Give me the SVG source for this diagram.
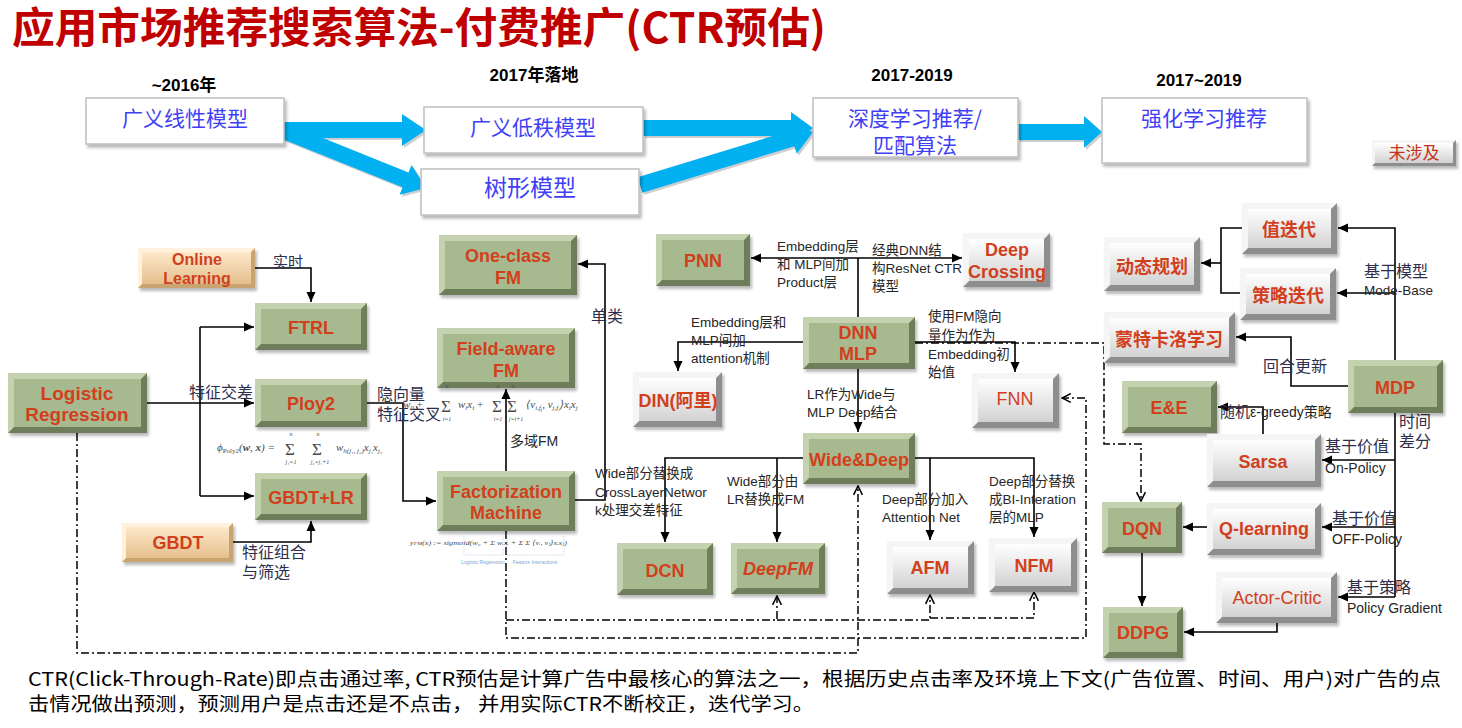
<svg xmlns="http://www.w3.org/2000/svg" width="1462" height="728" viewBox="0 0 1462 728">
<defs>
<linearGradient id="wg" x1="0" y1="0" x2="0" y2="1"><stop offset="0" stop-color="#FFFFFF"/><stop offset="1" stop-color="#D2D2D2"/></linearGradient>
<linearGradient id="tg" x1="0" y1="0" x2="0" y2="1"><stop offset="0" stop-color="#FEE9CB"/><stop offset="1" stop-color="#E4BF8C"/></linearGradient>
<filter id="ds" x="-10%" y="-10%" width="130%" height="140%"><feDropShadow dx="2" dy="3" stdDeviation="1.5" flood-color="#000" flood-opacity="0.28"/></filter>
<marker id="ah" viewBox="0 0 10 10" refX="10" refY="5" markerWidth="10" markerHeight="10" markerUnits="userSpaceOnUse" orient="auto"><path d="M0,0.5 L10,5 L0,9.5 z" fill="#000"/></marker>
<marker id="oh" viewBox="0 0 10 10" refX="9" refY="5" markerWidth="11" markerHeight="11" markerUnits="userSpaceOnUse" orient="auto"><path d="M1,1 L9,5 L1,9" fill="none" stroke="#000" stroke-width="1.4"/></marker>
<style>
.title{font-family:"Noto Sans CJK SC","Liberation Sans",sans-serif;font-weight:bold;font-size:42px;fill:#C00000}
.hd{font-family:"Liberation Sans","Noto Sans CJK SC",sans-serif;font-weight:bold;font-size:17px;fill:#000;text-anchor:middle}
.tb{fill:#fff;stroke:#BFBFBF;stroke-width:1.5;filter:url(#ds)}
.tt{font-family:"Noto Sans CJK SC",sans-serif;font-size:21px;fill:#3F3FF5;text-anchor:middle}
.ba{fill:#00B0F0}
.bs{fill:#9E9E9E;opacity:.5}
.gd{fill:#6E7D5A;filter:url(#ds)} .gl{fill:#C5D2B0} .gf{fill:#A7B98F}
.wd{fill:#8E8E8E;filter:url(#ds)} .wl{fill:#F5F5F5} .wf{fill:url(#wg)}
.td{fill:#C9A46F;filter:url(#ds)} .tl{fill:#FFF1DC} .tf{fill:url(#tg)}
.nt{font-family:"Liberation Sans","Noto Sans CJK SC",sans-serif;font-weight:bold;font-size:18px;fill:#D13F1D;text-anchor:middle}
.ln{fill:none;stroke:#000;stroke-width:1.6}
.ar{marker-end:url(#ah)}
.dd{fill:none;stroke:#000;stroke-width:1.5;stroke-dasharray:8 3 2 3}
.oa{marker-end:url(#oh)}
.lb{font-family:"Liberation Sans","Noto Sans CJK SC",sans-serif;font-size:13.5px;fill:#262626}
.lc{font-family:"Liberation Serif","Noto Sans CJK SC",serif;font-size:16px;fill:#2E2E4A}
.fx{font-family:"Liberation Serif","DejaVu Serif",serif;font-size:11px;fill:#4A4A4A;font-style:italic}
.fs{font-family:"Liberation Serif","DejaVu Serif",serif;font-size:17px;fill:#4A4A4A}
.fl{font-family:"Liberation Serif","DejaVu Serif",serif;font-size:6px;fill:#4A4A4A;font-style:italic;text-anchor:middle}
.ft{font-family:"Noto Sans CJK SC","Liberation Sans",sans-serif;font-size:19px;fill:#000}
</style>
</defs>
<rect x="0" y="0" width="1462" height="728" fill="#fff"/>

<!-- heading -->
<text class="title" x="12" y="43" textLength="814" lengthAdjust="spacingAndGlyphs">应用市场推荐搜索算法-付费推广(CTR预估)</text>

<!-- timeline headers -->
<g id="headers">
<text class="hd" x="184" y="91">~2016年</text>
<text class="hd" x="534" y="81">2017年落地</text>
<text class="hd" x="912" y="81">2017-2019</text>
<text class="hd" x="1199" y="86">2017~2019</text>
</g>

<!-- broad arrows between the model families -->
<g id="flow-arrows">
<g transform="translate(2,2)">
<polygon class="bs" points="284,122 402,122 402,114 426,130 402,146 402,138 284,138"/>
<polygon class="bs" transform="translate(284,131) rotate(21.9)" points="0,-8 131,-8 131,-16 153,0 131,16 131,8 0,8"/>
<polygon class="bs" points="643,120 791,120 791,112 813,128 791,144 791,136 643,136"/>
<polygon class="bs" transform="translate(640,185) rotate(-17)" points="0,-8 159,-8 159,-16 181,0 159,16 159,8 0,8"/>
<polygon class="bs" points="1018,124 1084,124 1084,116 1102,132 1084,148 1084,140 1018,140"/>
</g>
<polygon class="ba" points="284,122 402,122 402,114 426,130 402,146 402,138 284,138"/>
<polygon class="ba" transform="translate(284,131) rotate(21.9)" points="0,-8 131,-8 131,-16 153,0 131,16 131,8 0,8"/>
<polygon class="ba" points="643,120 791,120 791,112 813,128 791,144 791,136 643,136"/>
<polygon class="ba" transform="translate(640,185) rotate(-17)" points="0,-8 159,-8 159,-16 181,0 159,16 159,8 0,8"/>
<polygon class="ba" points="1018,124 1084,124 1084,116 1102,132 1084,148 1084,140 1018,140"/>
</g>

<!-- model families -->
<g id="fam-linear"><rect class="tb" x="86" y="98" width="198" height="46"/><text class="tt" x="185" y="125.5">广义线性模型</text></g>
<g id="fam-lowrank"><rect class="tb" x="424" y="107" width="219" height="46"/><text class="tt" x="533" y="134.5">广义低秩模型</text></g>
<g id="fam-tree"><rect class="tb" x="421" y="169" width="218" height="46"/><text class="tt" x="530" y="196" style="font-size:23px">树形模型</text></g>
<g id="fam-deep"><rect class="tb" x="813" y="98" width="205" height="59"/><text class="tt" x="915" y="125.5">深度学习推荐/</text><text class="tt" x="915" y="152.5">匹配算法</text></g>
<g id="fam-rl"><rect class="tb" x="1102" y="98" width="205" height="65"/><text class="tt" x="1204" y="125.5">强化学习推荐</text></g>
<g id="not-covered"><rect class="wd" x="1372" y="140" width="84" height="26"/><path class="wl" d="M1372 140 h84 l-3 3 H1375 V163 l-3 3 z"/><rect class="wf" x="1375" y="143" width="78" height="20"/><text x="1414" y="159" style="font-family:'Noto Sans CJK SC',sans-serif;font-size:17px;fill:#C8341A;text-anchor:middle">未涉及</text></g>

<!-- connectors -->
<g id="connectors">
<path class="ln ar" d="M255,268 H311 V302"/>
<path class="ln ar" d="M147,403 H254"/>
<path class="ln" d="M200,327 V496"/>
<path class="ln ar" d="M200,327 H254"/>
<path class="ln ar" d="M200,496 H254"/>
<path class="ln ar" d="M233,542 H311 V521"/>
<path class="ln ar" d="M367,403 H403 V501 H436"/>
<path class="ln ar" d="M506,471 V389"/>
<path class="ln ar" d="M575,500 H605 V264 H578"/>
<path class="ln" d="M858,317 V258"/>
<path class="ln ar" d="M858,258 H751"/>
<path class="ln ar" d="M858,258 H962"/>
<path class="ln ar" d="M803,342 H678 V371"/>
<path class="ln ar" d="M915,342 H1015 V372"/>
<path class="ln ar" d="M858,369 V432"/>
<path class="ln ar" d="M803,458 H665 V542"/>
<path class="ln ar" d="M777,458 V542"/>
<path class="ln ar" d="M915,458 H930 V540"/>
<path class="ln ar" d="M930,458 H1034 V537"/>
<path class="ln ar" d="M1395,360 V228 H1338"/>
<path class="ln ar" d="M1395,293 H1337"/>
<path class="ln" d="M1242,228 H1221 V293 H1240"/>
<path class="ln ar" d="M1221,263 H1201"/>
<path class="ln ar" d="M1348,386 H1291 V337 H1236"/>
<path class="ln" d="M1395,413 V597"/>
<path class="ln ar" d="M1395,460 H1322"/>
<path class="ln ar" d="M1395,527 H1322"/>
<path class="ln ar" d="M1395,597 H1338"/>
<path class="ln ar" d="M1263,434 V407 H1218"/>
<path class="ln ar" d="M1207,527 H1183"/>
<path class="ln ar" d="M1142,553 V606"/>
<path class="ln ar" d="M1277,623 V632 H1184"/>
<path class="dd oa" d="M77,433 V653 H858 V486"/>
<path class="dd oa" d="M506,531 V638 H1086 V398 H1062"/>
<path class="dd oa" d="M506,620 H777 V596"/>
<path class="dd oa" d="M777,620 H930 V595"/>
<path class="dd oa" d="M930,618 H1034 V592"/>
<path class="dd oa" d="M915,343 H1104 V444 H1141 V501"/>
</g>

<!-- tan nodes -->
<g id="n-online"><rect class="td" x="138" y="248" width="117" height="40"/><path class="tl" d="M138 248 h117 l-4 4 H142 V284 l-4 4 z"/><rect class="tf" x="142" y="252" width="109" height="32"/><text class="nt" x="197" y="265" style="font-size:16px">Online</text><text class="nt" x="197" y="284" style="font-size:16px">Learning</text></g>
<g id="n-gbdt"><rect class="td" x="122" y="523" width="111" height="39"/><path class="tl" d="M122 523 h111 l-4 4 H126 V558 l-4 4 z"/><rect class="tf" x="126" y="527" width="103" height="31"/><text class="nt" x="178" y="548.5">GBDT</text></g>

<!-- green nodes -->
<g id="n-ftrl"><rect class="gd" x="255" y="303" width="112" height="47"/><path class="gl" d="M255 303 h112 l-6 6 H261 V344 l-6 6 z"/><rect class="gf" x="261" y="309" width="100" height="35"/><text class="nt" x="311" y="333.5">FTRL</text></g>
<g id="n-lr"><rect class="gd" x="8" y="373" width="139" height="60"/><path class="gl" d="M8 373 h139 l-6 6 H14 V427 l-6 6 z"/><rect class="gf" x="14" y="379" width="127" height="48"/><text class="nt" x="77" y="400" style="font-size:19px">Logistic</text><text class="nt" x="77" y="421" style="font-size:19px">Regression</text></g>
<g id="n-ploy2"><rect class="gd" x="255" y="379" width="112" height="48"/><path class="gl" d="M255 379 h112 l-6 6 H261 V421 l-6 6 z"/><rect class="gf" x="261" y="385" width="100" height="36"/><text class="nt" x="311" y="409.5">Ploy2</text></g>
<g id="n-gbdtlr"><rect class="gd" x="255" y="473" width="112" height="47"/><path class="gl" d="M255 473 h112 l-6 6 H261 V514 l-6 6 z"/><rect class="gf" x="261" y="479" width="100" height="35"/><text class="nt" x="311" y="503.5">GBDT+LR</text></g>
<g id="n-oneclass"><rect class="gd" x="439" y="235" width="138" height="60"/><path class="gl" d="M439 235 h138 l-6 6 H445 V289 l-6 6 z"/><rect class="gf" x="445" y="241" width="126" height="48"/><text class="nt" x="508" y="261.5">One-class</text><text class="nt" x="508" y="283.5">FM</text></g>
<g id="n-ffm"><rect class="gd" x="437" y="328" width="138" height="60"/><path class="gl" d="M437 328 h138 l-6 6 H443 V382 l-6 6 z"/><rect class="gf" x="443" y="334" width="126" height="48"/><text class="nt" x="506" y="354.5">Field-aware</text><text class="nt" x="506" y="376.5">FM</text></g>
<g id="n-fm"><rect class="gd" x="437" y="471" width="138" height="60"/><path class="gl" d="M437 471 h138 l-6 6 H443 V525 l-6 6 z"/><rect class="gf" x="443" y="477" width="126" height="48"/><text class="nt" x="506" y="497.5">Factorization</text><text class="nt" x="506" y="518.5">Machine</text></g>
<g id="n-pnn"><rect class="gd" x="656" y="234" width="94" height="52"/><path class="gl" d="M656 234 h94 l-6 6 H662 V280 l-6 6 z"/><rect class="gf" x="662" y="240" width="82" height="40"/><text class="nt" x="703" y="266.5">PNN</text></g>
<g id="n-dnn"><rect class="gd" x="803" y="317" width="112" height="52"/><path class="gl" d="M803 317 h112 l-6 6 H809 V363 l-6 6 z"/><rect class="gf" x="809" y="323" width="100" height="40"/><text class="nt" x="858" y="338.5">DNN</text><text class="nt" x="858" y="359.5">MLP</text></g>
<g id="n-widedeep"><rect class="gd" x="803" y="433" width="112" height="51"/><path class="gl" d="M803 433 h112 l-6 6 H809 V478 l-6 6 z"/><rect class="gf" x="809" y="439" width="100" height="39"/><text class="nt" x="859" y="465.5">Wide&amp;Deep</text></g>
<g id="n-dcn"><rect class="gd" x="617" y="543" width="96" height="52"/><path class="gl" d="M617 543 h96 l-6 6 H623 V589 l-6 6 z"/><rect class="gf" x="623" y="549" width="84" height="40"/><text class="nt" x="665" y="576.5">DCN</text></g>
<g id="n-deepfm"><rect class="gd" x="731" y="543" width="94" height="51"/><path class="gl" d="M731 543 h94 l-6 6 H737 V588 l-6 6 z"/><rect class="gf" x="737" y="549" width="82" height="39"/><text class="nt" x="778" y="574.5" style="font-style:italic">DeepFM</text></g>
<g id="n-mdp"><rect class="gd" x="1348" y="360" width="95" height="53"/><path class="gl" d="M1348 360 h95 l-6 6 H1354 V407 l-6 6 z"/><rect class="gf" x="1354" y="366" width="83" height="41"/><text class="nt" x="1395" y="393.5">MDP</text></g>
<g id="n-ee"><rect class="gd" x="1122" y="381" width="95" height="52"/><path class="gl" d="M1122 381 h95 l-6 6 H1128 V427 l-6 6 z"/><rect class="gf" x="1128" y="387" width="83" height="40"/><text class="nt" x="1169" y="413.5">E&amp;E</text></g>
<g id="n-dqn"><rect class="gd" x="1102" y="502" width="80" height="51"/><path class="gl" d="M1102 502 h80 l-6 6 H1108 V547 l-6 6 z"/><rect class="gf" x="1108" y="508" width="68" height="39"/><text class="nt" x="1142" y="534.5">DQN</text></g>
<g id="n-ddpg"><rect class="gd" x="1103" y="607" width="80" height="51"/><path class="gl" d="M1103 607 h80 l-6 6 H1109 V652 l-6 6 z"/><rect class="gf" x="1109" y="613" width="68" height="39"/><text class="nt" x="1143" y="638.5">DDPG</text></g>

<!-- grey nodes -->
<g id="n-deepcross"><rect class="wd" x="963" y="233" width="87" height="54"/><path class="wl" d="M963 233 h87 l-6 6 H969 V281 l-6 6 z"/><rect class="wf" x="969" y="239" width="75" height="42"/><text class="nt" x="1007" y="255.5">Deep</text><text class="nt" x="1007" y="277.5">Crossing</text></g>
<g id="n-din"><rect class="wd" x="633" y="372" width="89" height="55"/><path class="wl" d="M633 372 h89 l-6 6 H639 V421 l-6 6 z"/><rect class="wf" x="639" y="378" width="77" height="43"/><text class="nt" x="678" y="406.5">DIN(阿里)</text></g>
<g id="n-fnn"><rect class="wd" x="972" y="373" width="87" height="55"/><path class="wl" d="M972 373 h87 l-6 6 H978 V422 l-6 6 z"/><rect class="wf" x="978" y="379" width="75" height="43"/><text class="nt" x="1015" y="404.5" style="font-weight:normal">FNN</text></g>
<g id="n-afm"><rect class="wd" x="887" y="541" width="87" height="53"/><path class="wl" d="M887 541 h87 l-6 6 H893 V588 l-6 6 z"/><rect class="wf" x="893" y="547" width="75" height="41"/><text class="nt" x="930" y="573.5">AFM</text></g>
<g id="n-nfm"><rect class="wd" x="989" y="538" width="88" height="54"/><path class="wl" d="M989 538 h88 l-6 6 H995 V586 l-6 6 z"/><rect class="wf" x="995" y="544" width="76" height="42"/><text class="nt" x="1034" y="571.5">NFM</text></g>
<g id="n-valueiter"><rect class="wd" x="1242" y="203" width="95" height="51"/><path class="wl" d="M1242 203 h95 l-6 6 H1248 V248 l-6 6 z"/><rect class="wf" x="1248" y="209" width="83" height="39"/><text class="nt" x="1289" y="235.5">值迭代</text></g>
<g id="n-dp"><rect class="wd" x="1104" y="237" width="96" height="54"/><path class="wl" d="M1104 237 h96 l-6 6 H1110 V285 l-6 6 z"/><rect class="wf" x="1110" y="243" width="84" height="42"/><text class="nt" x="1152" y="272.5">动态规划</text></g>
<g id="n-policyiter"><rect class="wd" x="1240" y="268" width="96" height="52"/><path class="wl" d="M1240 268 h96 l-6 6 H1246 V314 l-6 6 z"/><rect class="wf" x="1246" y="274" width="84" height="40"/><text class="nt" x="1288" y="301.5">策略迭代</text></g>
<g id="n-montecarlo"><rect class="wd" x="1104" y="312" width="131" height="51"/><path class="wl" d="M1104 312 h131 l-6 6 H1110 V357 l-6 6 z"/><rect class="wf" x="1110" y="318" width="119" height="39"/><text class="nt" x="1169" y="345.5">蒙特卡洛学习</text></g>
<g id="n-sarsa"><rect class="wd" x="1207" y="434" width="114" height="53"/><path class="wl" d="M1207 434 h114 l-6 6 H1213 V481 l-6 6 z"/><rect class="wf" x="1213" y="440" width="102" height="41"/><text class="nt" x="1263" y="467.5">Sarsa</text></g>
<g id="n-qlearning"><rect class="wd" x="1207" y="503" width="114" height="52"/><path class="wl" d="M1207 503 h114 l-6 6 H1213 V549 l-6 6 z"/><rect class="wf" x="1213" y="509" width="102" height="40"/><text class="nt" x="1264" y="534.5">Q-learning</text></g>
<g id="n-actorcritic"><rect class="wd" x="1216" y="572" width="121" height="51"/><path class="wl" d="M1216 572 h121 l-6 6 H1222 V617 l-6 6 z"/><rect class="wf" x="1222" y="578" width="109" height="39"/><text class="nt" x="1277" y="603.5" style="font-weight:normal">Actor-Critic</text></g>

<!-- edge labels -->
<g id="labels">
<text class="lc" x="273" y="267" style="font-size:15px">实时</text>
<text class="lc" x="189" y="398">特征交差</text>
<text class="lc" x="377" y="400">隐向量</text>
<text class="lc" x="377" y="420">特征交叉</text>
<text class="lc" x="242" y="558">特征组合</text>
<text class="lc" x="242" y="578">与筛选</text>
<text class="lc" x="591" y="322">单类</text>
<text class="lb" x="510" y="446" style="font-size:14px">多域FM</text>
<text class="lb" x="595" y="478">Wide部分替换成</text>
<text class="lb" x="595" y="497">CrossLayerNetwor</text>
<text class="lb" x="595" y="515">k处理交差特征</text>
<text class="lb" x="777" y="251">Embedding层</text>
<text class="lb" x="777" y="269">和 MLP间加</text>
<text class="lb" x="777" y="287">Product层</text>
<text class="lb" x="872" y="255">经典DNN结</text>
<text class="lb" x="872" y="273">构ResNet CTR</text>
<text class="lb" x="872" y="291">模型</text>
<text class="lb" x="691" y="327">Embedding层和</text>
<text class="lb" x="691" y="345">MLP间加</text>
<text class="lb" x="691" y="363">attention机制</text>
<text class="lb" x="928" y="321">使用FM隐向</text>
<text class="lb" x="928" y="340">量作为作为</text>
<text class="lb" x="928" y="359">Embedding初</text>
<text class="lb" x="928" y="377">始值</text>
<text class="lb" x="807" y="399">LR作为Wide与</text>
<text class="lb" x="807" y="417">MLP Deep结合</text>
<text class="lb" x="727" y="486">Wide部分由</text>
<text class="lb" x="727" y="504">LR替换成FM</text>
<text class="lb" x="882" y="504">Deep部分加入</text>
<text class="lb" x="882" y="522">Attention Net</text>
<text class="lb" x="989" y="486">Deep部分替换</text>
<text class="lb" x="989" y="504">成BI-Interation</text>
<text class="lb" x="989" y="522">层的MLP</text>
<text class="lc" x="1364" y="277">基于模型</text>
<text class="lb" x="1364" y="295">Mode-Base</text>
<text class="lc" x="1263" y="372">回合更新</text>
<text class="lc" x="1220" y="417" style="font-size:15px">随机<tspan class="lb" style="font-size:14px">ε-greedy策略</tspan></text>
<text class="lc" x="1399" y="427">时间</text>
<text class="lc" x="1399" y="447">差分</text>
<text class="lc" x="1325" y="452">基于价值</text>
<text class="lb" x="1325" y="473" style="font-size:14px">On-Policy</text>
<text class="lc" x="1332" y="524">基于价值</text>
<text class="lb" x="1332" y="544" style="font-size:14px">OFF-Policy</text>
<text class="lc" x="1347" y="593">基于策略</text>
<text class="lb" x="1347" y="613" style="font-size:14px">Policy Gradient</text>
</g>

<!-- formulas -->
<g id="formula-poly2">
<text class="fx" x="217" y="451">ϕ<tspan font-size="7" font-style="normal" dy="2">Poly2</tspan><tspan dy="-2">(</tspan><tspan font-weight="bold">w</tspan>, <tspan font-weight="bold">x</tspan>) =</text>
<text class="fs" x="285" y="455">Σ</text><text class="fs" x="312" y="455">Σ</text>
<text class="fl" x="291" y="436">n</text><text class="fl" x="318" y="436">n</text>
<text class="fl" x="291" y="464">j₁=1</text><text class="fl" x="320" y="464">j₂=j₁+1</text>
<text class="fx" x="336" y="451">w<tspan font-size="7" dy="2">h(j₁, j₂)</tspan><tspan dy="-2">x</tspan><tspan font-size="7" dy="2">j₁</tspan><tspan dy="-2">x</tspan><tspan font-size="7" dy="2">j₂</tspan></text>
</g>
<g id="formula-ffm">
<text class="fx" x="403" y="408">w<tspan font-size="7" dy="2">0</tspan><tspan dy="-2" font-style="normal"> +</tspan></text>
<text class="fs" x="441" y="412">Σ</text><text class="fl" x="447" y="388">n</text><text class="fl" x="447" y="421">i=1</text>
<text class="fx" x="458" y="408">w<tspan font-size="7" dy="2">i</tspan><tspan dy="-2">x</tspan><tspan font-size="7" dy="2">i</tspan><tspan dy="-2" font-style="normal"> +</tspan></text>
<text class="fs" x="492" y="412">Σ</text><text class="fl" x="498" y="388">n</text><text class="fl" x="498" y="421">i=1</text>
<text class="fs" x="507" y="412">Σ</text><text class="fl" x="513" y="388">n</text><text class="fl" x="516" y="421">j=i+1</text>
<text class="fx" x="526" y="408">⟨v<tspan font-size="7" dy="2">i,f</tspan><tspan font-size="5" dy="1">j</tspan><tspan dy="-3">, v</tspan><tspan font-size="7" dy="2">j,f</tspan><tspan font-size="5" dy="1">i</tspan><tspan dy="-3">⟩x</tspan><tspan font-size="7" dy="2">i</tspan><tspan dy="-2">x</tspan><tspan font-size="7" dy="2">j</tspan></text>
</g>
<g id="formula-fm">
<text class="fx" x="410" y="545" style="font-size:7px" textLength="157" lengthAdjust="spacingAndGlyphs">y<tspan font-size="5">FM</tspan>(x) := sigmoid(w₀ + Σ wᵢxᵢ + Σ Σ ⟨vᵢ, vⱼ⟩xᵢxⱼ)</text>
<rect x="464" y="533" width="39" height="22" fill="none" stroke="#A9C3DD" stroke-width="0.8" stroke-dasharray="1 1.5"/>
<rect x="507" y="533" width="57" height="22" fill="none" stroke="#A9C3DD" stroke-width="0.8" stroke-dasharray="1 1.5"/>
<text x="483" y="564" style="font-family:'Liberation Sans',sans-serif;font-size:5px;fill:#7FA7CF;text-anchor:middle">Logistic Regression</text>
<text x="535" y="564" style="font-family:'Liberation Sans',sans-serif;font-size:5px;fill:#7FA7CF;text-anchor:middle">Feature Interactions</text>
</g>

<!-- footnote -->
<g id="footnote">
<text class="ft" x="28" y="686" textLength="1413" lengthAdjust="spacingAndGlyphs">CTR(Click-Through-Rate)即点击通过率, CTR预估是计算广告中最核心的算法之一，根据历史点击率及环境上下文(广告位置、时间、用户)对广告的点</text>
<text class="ft" x="28" y="711" textLength="786" lengthAdjust="spacingAndGlyphs">击情况做出预测，预测用户是点击还是不点击， 并用实际CTR不断校正，迭代学习。</text>
</g>
</svg>
